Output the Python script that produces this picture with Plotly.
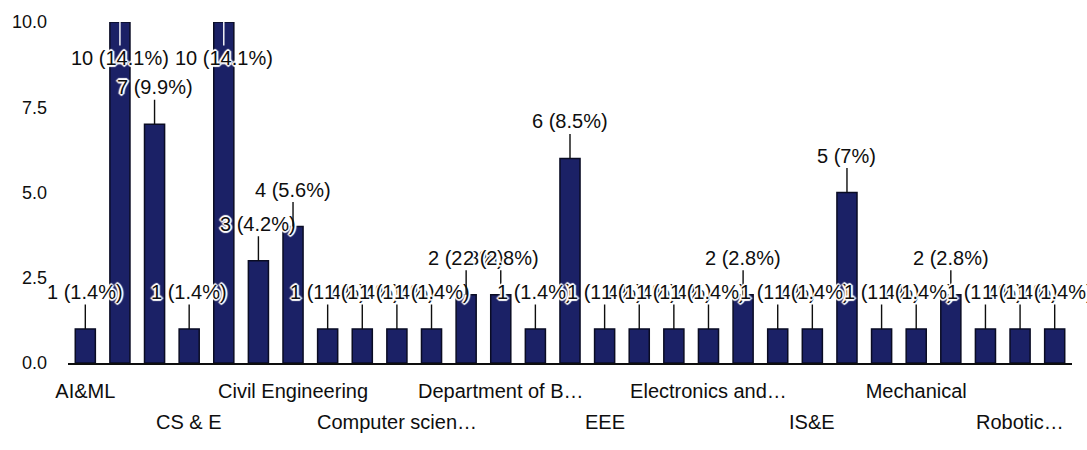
import plotly.graph_objects as go

# Responses per department (29 answers, alphabetical order)
counts = [1, 10, 7, 1, 10, 3, 4, 1, 1, 1, 1, 2, 2, 1, 6,
          1, 1, 1, 1, 2, 1, 1, 5, 1, 1, 2, 1, 1, 1]

# Category labels shown on the axis, two staggered rows
row1_pos = [0, 6, 12, 18, 24]
row1_text = ["AI&ML", "Civil Engineering", "Department of B…",
             "Electronics and…", "Mechanical"]
row2_pos = [3, 9, 15, 21, 27]
row2_text = ["CS & E", "Computer scien…", "EEE", "IS&E", "Robotic…"]

y_ticks = [0, 2.5, 5, 7.5, 10]
y_ticktext = ["0.0", "2.5", "5.0", "7.5", "10.0"]

Y_MAX = 10
total = sum(counts)
x = list(range(len(counts)))

FONT = "Arial, Liberation Sans, sans-serif"
BAR = "#1b2166"
INK = "#0e0e0e"
HALO = ", ".join(f"white {dx}px {dy}px 1px" for dx, dy in
                 [(1, 1), (-1, -1), (1, -1), (-1, 1), (2, 0), (-2, 0), (0, 2), (0, -2)])


def pct_label(v):
    p = round(v / total * 100, 1)
    s = f"{p:.1f}".rstrip("0").rstrip(".")
    return f"{v} ({s}%)"


fig = go.Figure()
fig.add_trace(go.Bar(
    x=x, y=counts,
    marker=dict(color=BAR, line=dict(color="#0a0c24", width=1.5)),
    width=0.58,
    hoverinfo="skip",
))

annotations = []
for i, v in enumerate(counts):
    inside = v >= Y_MAX - 1
    annotations.append(dict(
        x=i, y=v, xref="x", yref="y",
        text=pct_label(v),
        showarrow=True, arrowhead=0, arrowwidth=1.4,
        arrowcolor="white" if inside else INK,
        ax=0, ay=36 if inside else -37,
        font=dict(family=FONT, size=20, color=INK, shadow=HALO),
    ))

# Second (lower) row of category labels
for pos, label in zip(row2_pos, row2_text):
    annotations.append(dict(
        x=pos, y=0, xref="x", yref="paper",
        text=label, showarrow=False,
        yanchor="middle", yshift=-59,
        font=dict(family=FONT, size=20, color=INK),
    ))

fig.update_layout(
    width=1087, height=450,
    margin=dict(l=67, r=15, t=15, b=87),
    paper_bgcolor="white", plot_bgcolor="white",
    showlegend=False,
    annotations=annotations,
    xaxis=dict(
        range=[-0.5, len(counts) - 0.5],
        tickvals=row1_pos, ticktext=row1_text,
        tickfont=dict(family=FONT, size=20, color=INK),
        ticklabelstandoff=9,
        showline=True, linecolor=INK, linewidth=2,
        showgrid=False, zeroline=False, ticks="",
    ),
    yaxis=dict(
        range=[0, Y_MAX],
        tickvals=y_ticks, ticktext=y_ticktext,
        tickfont=dict(family=FONT, size=18, color=INK),
        ticklabelstandoff=20,
        showgrid=False, zeroline=False, showline=False, ticks="",
    ),
)

fig.write_html("out.html")
